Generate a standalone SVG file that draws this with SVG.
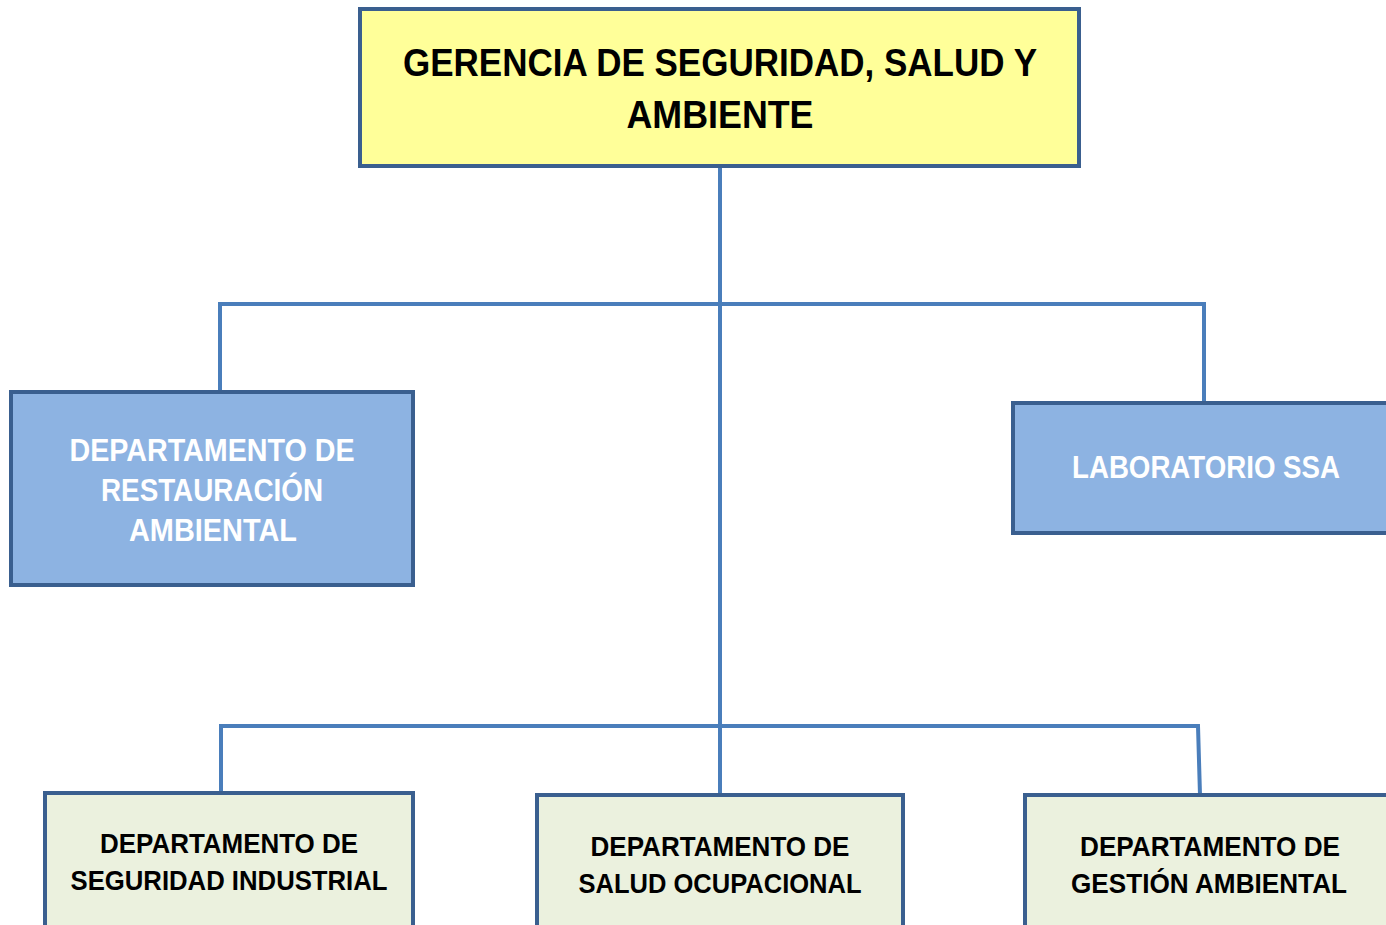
<svg xmlns="http://www.w3.org/2000/svg" width="1386" height="925" viewBox="0 0 1386 925">
<style>
.box{stroke:#3a5f8f;stroke-width:4}
.top{fill:#ffff99}
.mid{fill:#8db3e2}
.low{fill:#ebf1de}
.conn{fill:none;stroke:#4a7ebb;stroke-width:4}
text{font-family:"Liberation Sans",Arial,sans-serif;font-weight:bold;text-anchor:middle}
.tb{fill:#000;font-size:38px}
.tw{fill:#fff;font-size:31px}
.tl{fill:#000;font-size:28px}
</style>
<rect width="1386" height="925" fill="#fff"/>
<g id="connectors">
<path class="conn" d="M720,166 V795"/>
<path class="conn" d="M220,392 V304 H1204 V403"/>
<path class="conn" d="M221,793 V726 H1198 L1200,795"/>
</g>
<g id="gerencia">
<rect class="box top" x="360" y="9" width="719" height="157"/>
<text class="tb" x="720" y="76" textLength="634" lengthAdjust="spacingAndGlyphs">GERENCIA DE SEGURIDAD, SALUD Y</text>
<text class="tb" x="720" y="128" textLength="187" lengthAdjust="spacingAndGlyphs">AMBIENTE</text>
</g>
<g id="restauracion">
<rect class="box mid" x="11" y="392" width="402" height="193"/>
<text class="tw" x="212" y="461" textLength="285" lengthAdjust="spacingAndGlyphs">DEPARTAMENTO DE</text>
<text class="tw" x="212" y="501" textLength="222" lengthAdjust="spacingAndGlyphs">RESTAURACIÓN</text>
<text class="tw" x="213" y="541" textLength="168" lengthAdjust="spacingAndGlyphs">AMBIENTAL</text>
</g>
<g id="laboratorio">
<rect class="box mid" x="1013" y="403" width="380" height="130"/>
<text class="tw" x="1206" y="478" textLength="268" lengthAdjust="spacingAndGlyphs">LABORATORIO SSA</text>
</g>
<g id="seguridad">
<rect class="box low" x="45" y="793" width="368" height="140"/>
<text class="tl" x="229" y="853" textLength="258" lengthAdjust="spacingAndGlyphs">DEPARTAMENTO DE</text>
<text class="tl" x="229" y="890" textLength="317" lengthAdjust="spacingAndGlyphs">SEGURIDAD INDUSTRIAL</text>
</g>
<g id="salud">
<rect class="box low" x="537" y="795" width="366" height="140"/>
<text class="tl" x="720" y="856" textLength="259" lengthAdjust="spacingAndGlyphs">DEPARTAMENTO DE</text>
<text class="tl" x="720" y="893" textLength="283" lengthAdjust="spacingAndGlyphs">SALUD OCUPACIONAL</text>
</g>
<g id="gestion">
<rect class="box low" x="1025" y="795" width="370" height="140"/>
<text class="tl" x="1210" y="856" textLength="260" lengthAdjust="spacingAndGlyphs">DEPARTAMENTO DE</text>
<text class="tl" x="1209" y="893" textLength="276" lengthAdjust="spacingAndGlyphs">GESTIÓN AMBIENTAL</text>
</g>
</svg>
